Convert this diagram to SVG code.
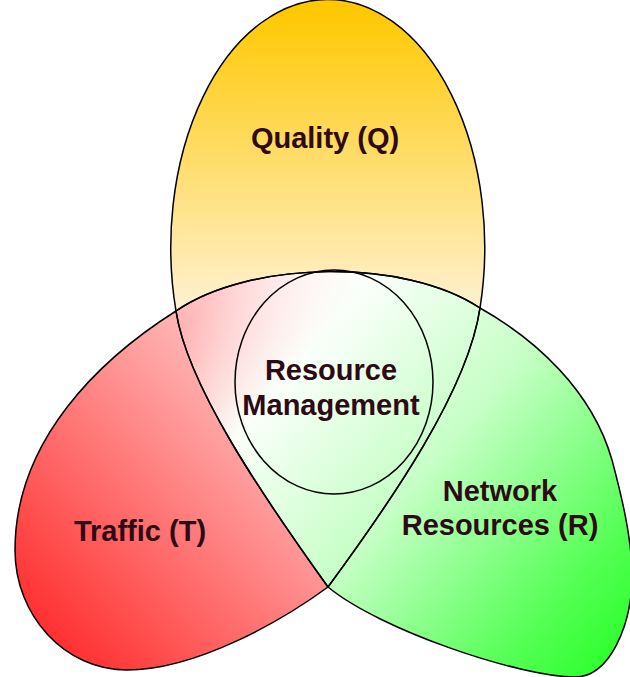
<svg xmlns="http://www.w3.org/2000/svg" xmlns:xlink="http://www.w3.org/1999/xlink" width="630" height="677" viewBox="0 0 630 677">
  <defs>
    <style>
      .label { font-family: "Liberation Sans", Arial, sans-serif; font-weight: bold; font-size: 29px; fill: #2e0a14; text-anchor: middle; }
      .edge { fill: none; stroke: #000; stroke-width: 1.5; stroke-linejoin: round; }
    </style>
    <linearGradient id="grad-q" gradientUnits="userSpaceOnUse" x1="0" y1="7" x2="0" y2="330">
      <stop offset="0" stop-color="#ffc800"/>
      <stop offset="1" stop-color="#fff4e0"/>
    </linearGradient>
    <linearGradient id="grad-t" gradientUnits="userSpaceOnUse" x1="20" y1="660" x2="400" y2="300">
      <stop offset="0" stop-color="#ff2020"/>
      <stop offset="1" stop-color="#ffffff"/>
    </linearGradient>
    <linearGradient id="grad-r" gradientUnits="userSpaceOnUse" x1="200" y1="310" x2="615" y2="670">
      <stop offset="0" stop-color="#ffffff" stop-opacity="0"/>
      <stop offset="0.2" stop-color="#fafffa" stop-opacity="1"/>
      <stop offset="0.5" stop-color="#c6ffc6"/>
      <stop offset="0.84" stop-color="#55ff55"/>
      <stop offset="1" stop-color="#2aff2a"/>
    </linearGradient>
    <!-- petal outlines: shared arcs use identical control points -->
    <path id="q-shape" d="M176,311 A157,248 0 1 1 480,308 C468,390 392,500 328,587 C262,495 187,385 176,311 Z"/>
    <path id="t-shape" d="M480,308 C405,258 250,260 176,311 C100,359 15,440 15,550 C15,616 65,670 127,670 C197,670 283,620 328,587 C392,500 468,390 480,308 Z"/>
    <path id="r-shape" d="M176,311 C250,260 405,258 480,308 C535,339 592,390 612,460 C620,490 633,540 632,580 C631,625 610,677 575,677 C520,677 380,630 328,587 C262,495 187,385 176,311 Z"/>
  </defs>

  <g id="quality">
    <use xlink:href="#q-shape" href="#q-shape" fill="url(#grad-q)"/>
    <text class="label" x="325" y="148">Quality (Q)</text>
  </g>

  <g id="traffic">
    <use xlink:href="#t-shape" href="#t-shape" fill="url(#grad-t)"/>
    <text class="label" x="140" y="541">Traffic (T)</text>
  </g>

  <g id="network-resources">
    <use xlink:href="#r-shape" href="#r-shape" fill="url(#grad-r)"/>
    <text class="label" x="500" y="501">Network</text>
    <text class="label" x="500" y="535">Resources (R)</text>
  </g>

  <g id="resource-management">
    <ellipse class="edge" cx="334" cy="382" rx="99" ry="112"/>
    <text class="label" x="331" y="380">Resource</text>
    <text class="label" x="331" y="415">Management</text>
  </g>

  <g id="outlines">
    <use xlink:href="#q-shape" href="#q-shape" class="edge"/>
    <use xlink:href="#t-shape" href="#t-shape" class="edge"/>
    <use xlink:href="#r-shape" href="#r-shape" class="edge"/>
  </g>
</svg>
